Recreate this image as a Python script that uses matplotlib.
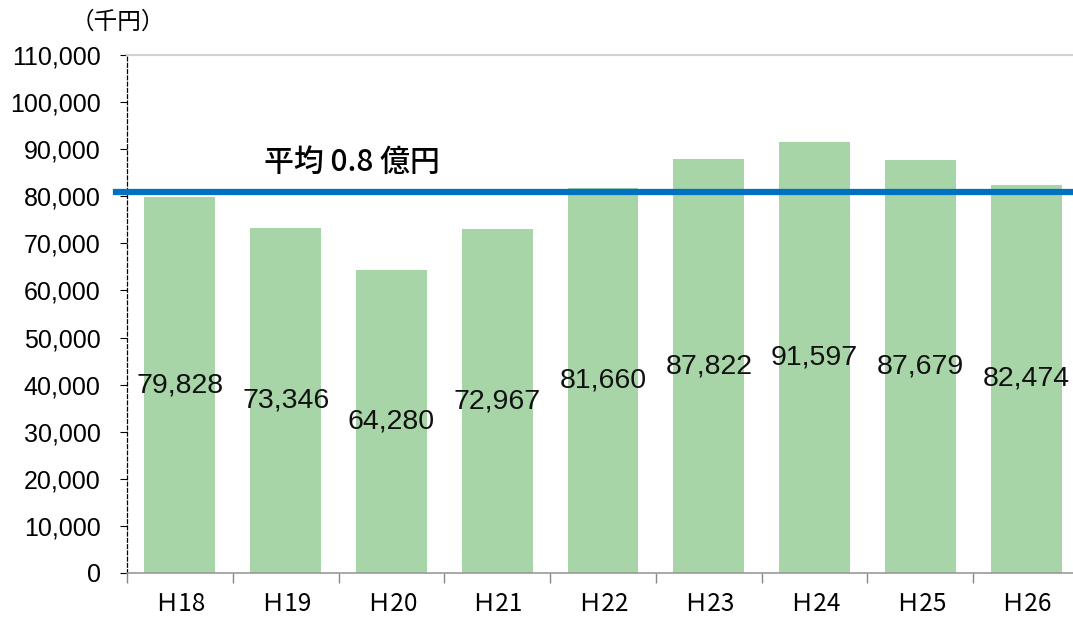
import numpy as np
import matplotlib
matplotlib.use("Agg")
import matplotlib.pyplot as plt

plt.rcParams['font.family'] = ['Liberation Sans', 'Noto Sans CJK JP', 'DejaVu Sans']

years = ["Ｈ18", "Ｈ19", "Ｈ20", "Ｈ21", "Ｈ22", "Ｈ23", "Ｈ24", "Ｈ25", "Ｈ26"]
values = [79828, 73346, 64280, 72967, 81660, 87822, 91597, 87679, 82474]
average = 80900
average_label = "平均 0.8 億円"
unit_label = "（千円）"

fig = plt.figure(figsize=(10.73, 6.2), dpi=100)
ax = fig.add_axes([127 / 1073, 47 / 620, 952 / 1073, 518 / 620])

x = np.arange(len(years))
ax.bar(x, values, width=0.67, color="#a8d5a7", zorder=2)

# 棒の中央にラベル
for xi, v in zip(x, values):
    ax.text(xi, v / 2, "{:,}".format(v), ha="center", va="center", fontsize=20.5, color="#111111", zorder=3)

# 平均線
ax.axhline(average, xmin=-0.012, xmax=1, color="#0070c0", linewidth=4.5, zorder=4, clip_on=False)
ax.text(1.63, average + 6300, average_label, ha="center", va="center", fontsize=21.5,
        fontweight="medium", family=['Noto Sans CJK JP', 'DejaVu Sans'], zorder=5)

ax.set_xlim(-0.5, len(years) - 0.5)
ax.set_ylim(0, 110000)
ax.set_yticks(np.arange(0, 110001, 10000))
ax.set_yticklabels(["{:,}".format(t) for t in range(0, 110001, 10000)], fontsize=18)
ax.tick_params(axis="y", length=5, width=0.8, pad=14)

ax.set_xticks(x)
ax.set_xticklabels(years, fontsize=17.5, family=['Noto Sans CJK JP', 'DejaVu Sans'])
ax.set_xticks(np.arange(-0.5, len(years)), minor=True)
ax.tick_params(axis="x", which="major", length=0, pad=13)
ax.tick_params(axis="x", which="minor", length=7, color="#888888", width=1)

ax.spines["left"].set_linestyle((0, (3, 2)))
ax.spines["left"].set_color("black")
ax.spines["left"].set_linewidth(0.9)
ax.spines["top"].set_color("#d0d0d0")
ax.spines["top"].set_linewidth(1.5)
ax.spines["bottom"].set_color("#999999")
ax.spines["bottom"].set_linewidth(1.2)
ax.spines["right"].set_visible(False)

fig.text(118 / 1073, 1 - 22 / 620, unit_label, ha="center", va="center", fontsize=17,
         family=['Noto Sans CJK JP', 'DejaVu Sans'])

fig.savefig("out.png", dpi=100)
